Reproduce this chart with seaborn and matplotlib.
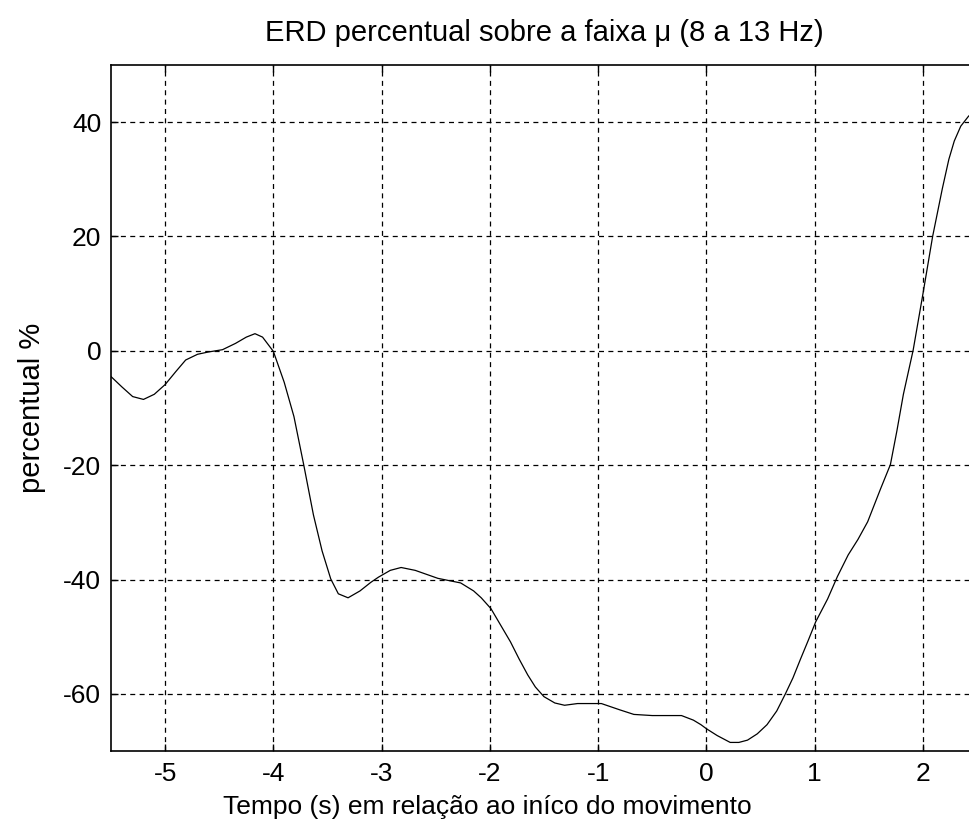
import matplotlib
matplotlib.use("Agg")
import matplotlib.pyplot as plt
import seaborn as sns
import pandas as pd

# Data
tempo = [-5.50, -5.40, -5.30, -5.20, -5.10, -5.00, -4.90, -4.81, -4.70, -4.60,
         -4.47, -4.35, -4.25, -4.17, -4.10, -4.00, -3.90, -3.81, -3.72, -3.63,
         -3.55, -3.47, -3.40, -3.31, -3.20, -3.10, -3.03, -2.92, -2.82, -2.69,
         -2.48, -2.27, -2.15, -2.08, -1.99, -1.90, -1.81, -1.73, -1.65, -1.58,
         -1.50, -1.40, -1.31, -1.19, -0.97, -0.80, -0.67, -0.50, -0.23, -0.12,
         -0.05, 0.00, 0.10, 0.22, 0.30, 0.38, 0.47, 0.56, 0.65, 0.73,
         0.80, 0.87, 0.94, 1.01, 1.12, 1.21, 1.31, 1.40, 1.49, 1.61,
         1.70, 1.76, 1.82, 1.91, 2.00, 2.09, 2.18, 2.24, 2.29, 2.35,
         2.42, 2.50]
erd = [-4.5, -6.3, -8.0, -8.5, -7.6, -5.9, -3.6, -1.6, -0.6, -0.2,
       0.2, 1.3, 2.4, 3.0, 2.4, -0.1, -5.5, -11.5, -19.9, -28.7,
       -35.0, -39.9, -42.5, -43.2, -42.0, -40.5, -39.6, -38.4, -37.9, -38.4,
       -39.8, -40.6, -42.0, -43.2, -45.1, -48.0, -50.9, -53.9, -56.7, -58.8,
       -60.5, -61.6, -62.0, -61.7, -61.7, -62.8, -63.6, -63.8, -63.8, -64.6,
       -65.4, -66.1, -67.3, -68.5, -68.5, -68.1, -67.0, -65.4, -63.0, -60.0,
       -57.2, -53.9, -50.7, -47.4, -43.4, -39.5, -35.7, -33.0, -29.9, -24.1,
       -19.9, -14.0, -7.6, 0.1, 9.9, 20.0, 28.4, 33.5, 36.7, 39.3,
       41.0, 42.5]
xticks = [-5, -4, -3, -2, -1, 0, 1, 2]
yticks = [-60, -40, -20, 0, 20, 40]

title = "ERD percentual sobre a faixa \u03bc (8 a 13 Hz)"
xlabel = "Tempo (s) em rela\u00e7\u00e3o ao in\u00edco do movimento"
ylabel = "percentual %"

sns.set_theme(style="white")
plt.rcParams['font.family'] = ['Liberation Sans', 'DejaVu Sans']

df = pd.DataFrame({"tempo": tempo, "erd": erd})

fig = plt.figure(figsize=(9.7, 8.3), dpi=100)
ax = fig.add_axes([111/970, 79/830, (977-111)/970, (751-65)/830])

sns.lineplot(data=df, x="tempo", y="erd", ax=ax, color="black",
             linewidth=0.9, sort=False)

ax.set_xlim(-5.5, 2.5)
ax.set_ylim(-70, 50)
ax.set_xticks(xticks)
ax.set_yticks(yticks)
ax.set_xticklabels([str(t) for t in xticks])
ax.set_yticklabels([str(t) for t in yticks])

ax.grid(True, color="black", linestyle=(0, (4, 3.5)), linewidth=0.9)
ax.set_axisbelow(True)

for s in ax.spines.values():
    s.set_color("black")
    s.set_linewidth(1.2)
    s.set_visible(True)

ax.tick_params(axis="both", which="both", direction="in", length=5, width=1.0,
               color="black", labelsize=19, labelcolor="black",
               top=True, right=True, bottom=True, left=True)
ax.tick_params(axis="x", pad=8)
ax.tick_params(axis="y", pad=7)

ax.set_title(title, fontsize=21, pad=17, color="black")
ax.set_xlabel(xlabel, fontsize=19, color="black")
ax.xaxis.set_label_coords(0.434, -0.064, transform=ax.transAxes)
ax.xaxis.label.set_verticalalignment("top")
ax.set_ylabel(ylabel, fontsize=21, labelpad=12, color="black")

fig.savefig("out.png", dpi=100, facecolor="white")
